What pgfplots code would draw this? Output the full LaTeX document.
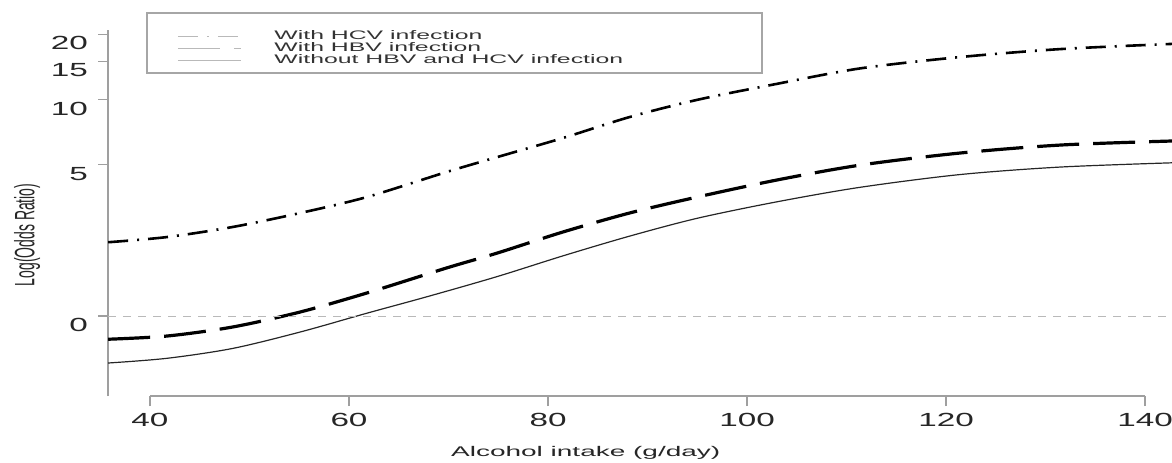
\documentclass[border=0pt]{standalone}
\usepackage{fontspec}
\setmainfont{Liberation Sans}
\usepackage{graphicx}
\usepackage{pgfplots}
\pgfplotsset{compat=1.18}
% the reference is stretched sideways, so the text is too
\newcommand{\sx}[1]{\scalebox{2}[1]{#1}}
\newcommand{\tx}[1]{\scalebox{1.75}[1]{#1}}

\begin{document}
\begin{tikzpicture}
\useasboundingbox (0,0) rectangle (586pt,231pt);
\begin{axis}[
  at={(54pt,33pt)}, anchor=south west,
  scale only axis, width=532pt, height=183pt,
  xmin=35.78, xmax=142.71, ymin=-0.851, ymax=3.043,
  axis x line*=bottom, axis y line*=left,
  axis line style={-, gray!75, line width=0.7pt},
  x axis line style={shorten <=21pt, shorten >=13.5pt},
  tick align=outside, major tick length=5pt,
  tick style={gray!75, line width=0.7pt},
  xtick={40,60,80,100,120,140},
  xticklabels={\tx{40},\tx{60},\tx{80},\tx{100},\tx{120},\tx{140}},
  ytick={0,1.6094,2.3026,2.7081,2.9957},
  yticklabels={\tx{0},\tx{5},\tx{10},\tx{15},\tx{20}},
  tick label style={font=\fontsize{9.5}{10}\selectfont, text=black!85},
  yticklabel style={yshift=-4.5pt, xshift=-1.5pt},
  xlabel={\sx{Alcohol intake (g/day)}},
  ylabel={\scalebox{1}[2]{Log(Odds Ratio)}},
  label style={font=\fontsize{7}{8}\selectfont, text=black!85},
  xlabel style={at={(axis description cs:0.449,-0.156)}, anchor=center},
  ylabel style={at={(axis description cs:-0.076,0.44)}, anchor=center},
  legend image code/.code={\draw[#1] (0pt,0pt) -- (31.5pt,0pt);},
  legend image post style={gray!55, line width=0.5pt},
  legend style={at={(axis description cs:0.0367,1.0245)}, anchor=north west,
    draw=none, fill=none, inner xsep=15pt, inner ysep=4.5pt,
    row sep=0pt, column sep=16.5pt,
    nodes={inner sep=0pt, text height=4.5pt, text depth=1.5pt},
    cells={anchor=west},
    font=\fontsize{6.2}{7}\selectfont, text=black!80},
  clip mode=individual,
]
\addplot[black, line width=1.3pt, smooth,
  dash pattern=on 10pt off 4.5pt on 1pt off 4.5pt]
  coordinates {(35.8,0.785) (41.7,0.840) (48.3,0.947) (55.1,1.096)
    (61.8,1.266) (69.8,1.532) (74.9,1.691) (81.5,1.894) (88.2,2.117)
    (95.0,2.300) (103.0,2.470) (111.4,2.635) (121.4,2.755) (131.5,2.840)
    (142.7,2.895)};
\addlegendentry{\makebox[229.5pt][l]{\sx{With HCV infection}}}
\addplot[black, line width=1.6pt, smooth, dash pattern=on 21pt off 7pt]
  coordinates {(35.8,-0.247) (41.7,-0.213) (48.3,-0.117) (55.1,0.043)
    (61.8,0.245) (69.8,0.511) (74.9,0.670) (81.5,0.894) (88.2,1.096)
    (95.0,1.266) (103.0,1.447) (111.4,1.606) (121.4,1.734) (131.5,1.819)
    (142.7,1.862)};
\addlegendentry{\makebox[229.5pt][l]{\sx{With HBV infection}}}
\addplot[black!85, line width=0.6pt, smooth]
  coordinates {(35.8,-0.500) (41.7,-0.450) (48.3,-0.345) (55.1,-0.170)
    (61.8,0.030) (68.0,0.210) (74.9,0.420) (81.5,0.640) (88.2,0.850)
    (95.0,1.040) (103.0,1.215) (111.4,1.370) (121.4,1.505) (131.5,1.585)
    (142.7,1.630)};
\addlegendentry{\makebox[229.5pt][l]{\sx{Without HBV and HCV infection}}}
\addplot[gray!55, line width=0.5pt, dash pattern=on 4pt off 3.5pt, forget plot]
  coordinates {(35.78,0) (142.71,0)};
% frame of the legend
\draw[gray!70, line width=0.6pt] (axis description cs:0.0367,1.0464)
  rectangle (axis description cs:0.6147,0.8825);
\end{axis}
\end{tikzpicture}
\end{document}
